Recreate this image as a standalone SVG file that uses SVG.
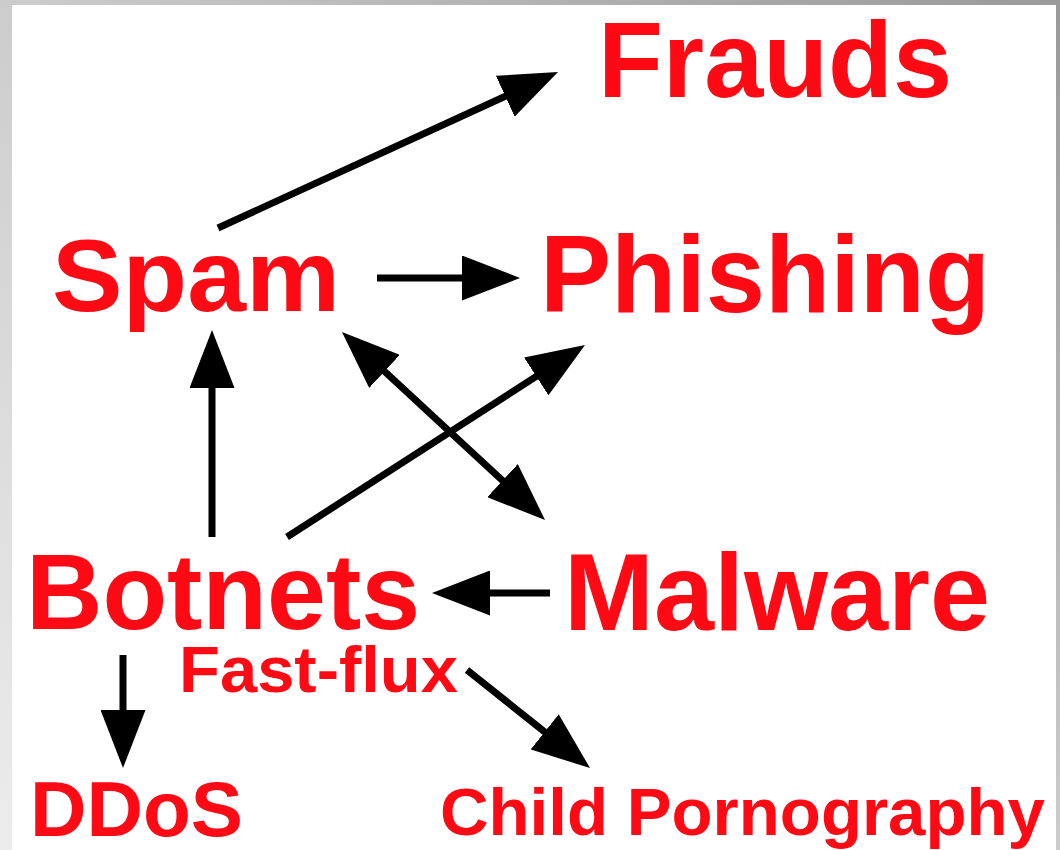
<svg xmlns="http://www.w3.org/2000/svg" width="1060" height="850" viewBox="0 0 1060 850">
  <style>
    .lbl { font-family: "Liberation Sans", Arial, sans-serif; font-weight: bold; fill: #ff0a14; }
    .edge { stroke: #000; stroke-width: 7; fill: none; marker-end: url(#head); }
  </style>
  <defs>
    <linearGradient id="bg" x1="1" y1="0" x2="0" y2="1">
      <stop offset="0" stop-color="#999999"/>
      <stop offset="0.5" stop-color="#cccccc"/>
      <stop offset="1" stop-color="#ececec"/>
    </linearGradient>
    <marker id="head" markerUnits="userSpaceOnUse" markerWidth="58" markerHeight="45" refX="48" refY="22.5" orient="auto-start-reverse" viewBox="0 0 58 45">
      <path d="M0,0 L58,22.5 L0,45 Z" fill="#000"/>
    </marker>
  </defs>
  <rect x="0" y="0" width="1060" height="850" fill="url(#bg)"/>
  <rect x="12" y="5" width="1044" height="845" fill="#ffffff"/>

  <g id="connectors">
    <line class="edge" x1="218" y1="228" x2="548.9" y2="76.2"/>
    <line class="edge" x1="377" y1="278" x2="510" y2="278"/>
    <line class="edge" x1="212" y1="537" x2="212" y2="340"/>
    <line class="edge" x1="287" y1="537" x2="576.6" y2="350.4"/>
    <line class="edge" x1="349.3" y1="338.8" x2="537.7" y2="513.2" marker-start="url(#head)"/>
    <line class="edge" x1="550" y1="593" x2="442" y2="593"/>
    <line class="edge" x1="123" y1="655" x2="123" y2="758"/>
    <line class="edge" x1="467" y1="670" x2="582.2" y2="761.8"/>
  </g>

  <g id="frauds"><text class="lbl" x="598" y="97" font-size="108" textLength="354" lengthAdjust="spacingAndGlyphs">Frauds</text></g>
  <g id="spam"><text class="lbl" x="52" y="311" font-size="102" textLength="288" lengthAdjust="spacingAndGlyphs">Spam</text></g>
  <g id="phishing"><text class="lbl" x="540" y="312" font-size="110" textLength="450" lengthAdjust="spacingAndGlyphs">Phishing</text></g>
  <g id="botnets"><text class="lbl" x="26" y="629" font-size="108" textLength="394" lengthAdjust="spacingAndGlyphs">Botnets</text></g>
  <g id="malware"><text class="lbl" x="564" y="630" font-size="110" textLength="426" lengthAdjust="spacingAndGlyphs">Malware</text></g>
  <g id="fastflux"><text class="lbl" x="179" y="692" font-size="64" textLength="279" lengthAdjust="spacingAndGlyphs">Fast-flux</text></g>
  <g id="ddos"><text class="lbl" x="30" y="836" font-size="77" textLength="213" lengthAdjust="spacingAndGlyphs">DDoS</text></g>
  <g id="child"><text class="lbl" x="440" y="835" font-size="66" textLength="605" lengthAdjust="spacingAndGlyphs">Child Pornography</text></g>
</svg>
